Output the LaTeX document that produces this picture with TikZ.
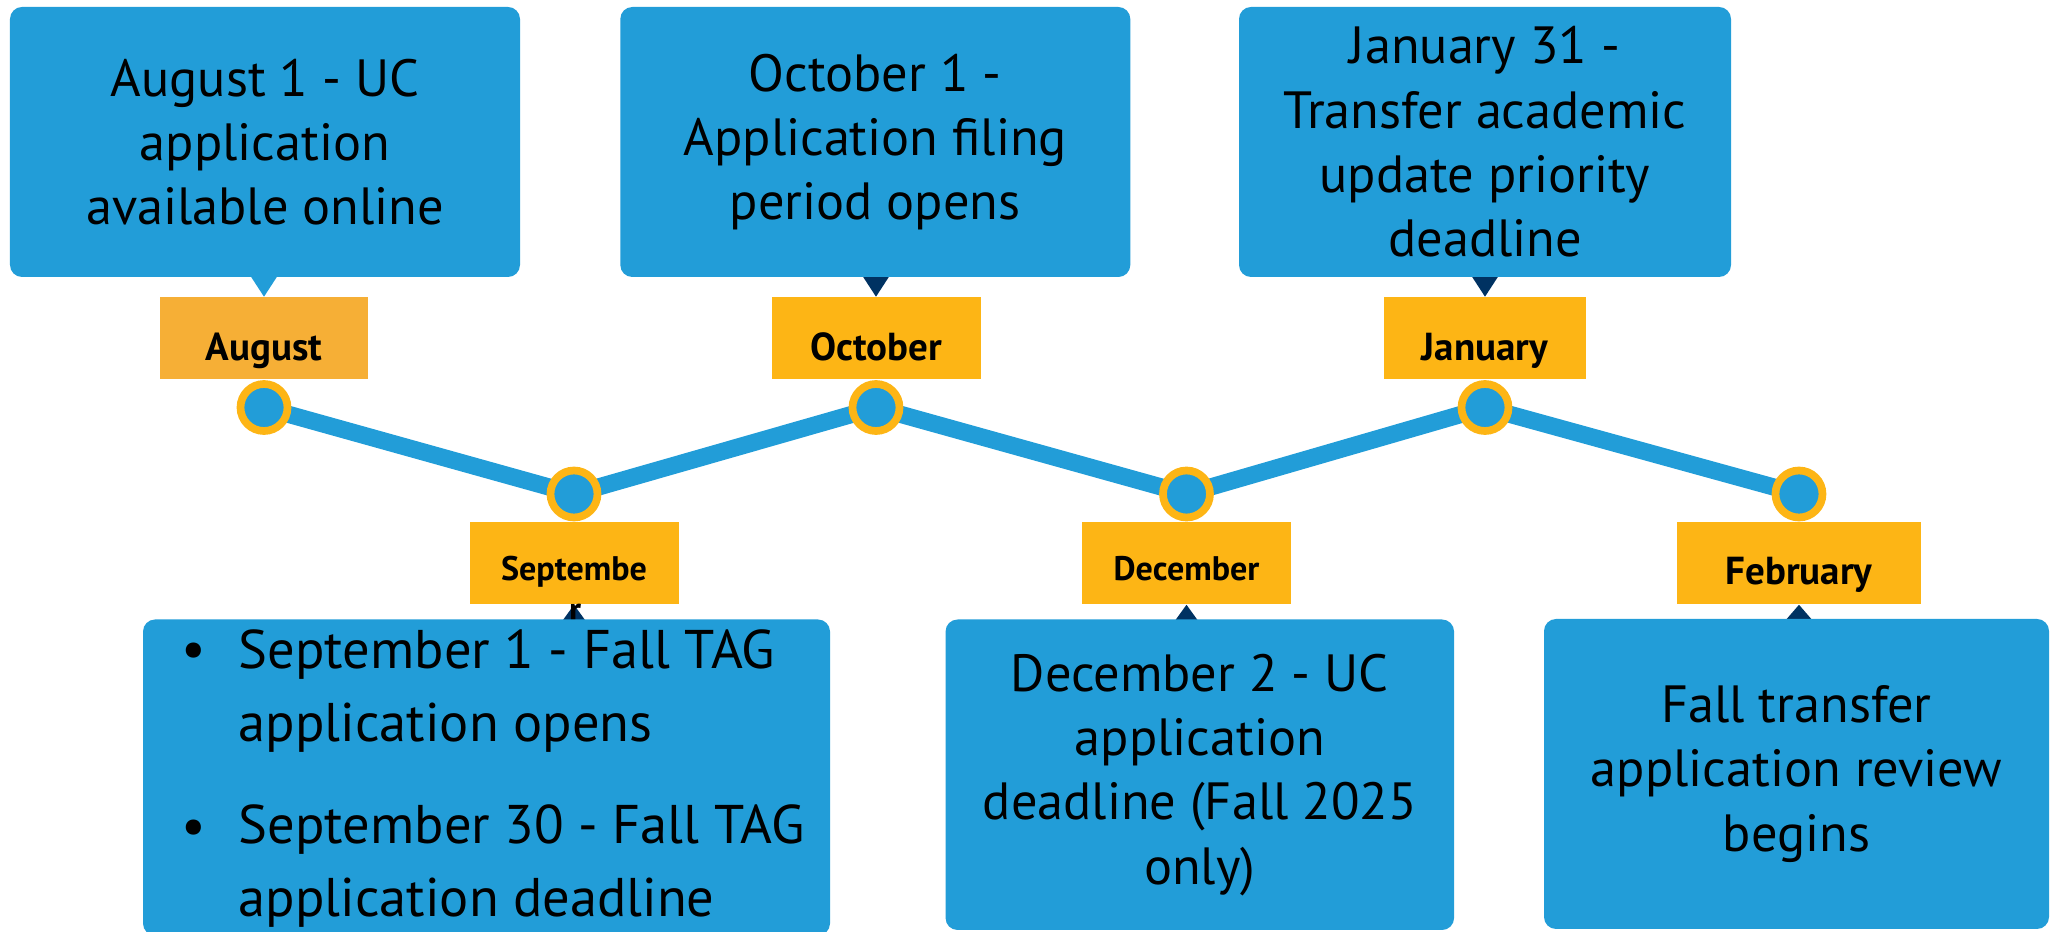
\documentclass[tikz,border=0pt]{standalone}
\usepackage{fontspec}
\setmainfont{PT Sans}
\usepackage{tikz}
\usetikzlibrary{positioning,backgrounds,calc}
\definecolor{evblue}{HTML}{229DD8}
\definecolor{gold}{HTML}{FDB515}
\definecolor{augold}{HTML}{F6AF36}
\definecolor{navy}{HTML}{003262}
\tikzset{
  track/.style={draw=evblue, line width=4.9pt},
  dot/.style={circle, draw=gold, fill=evblue, line width=2.2pt, minimum size=0.47cm, inner sep=0pt},
  month/.style={fill=gold, inner sep=0pt, minimum width=2.08cm, text height=0.63cm, text depth=0.19cm, font=\fontsize{11.1}{13}\selectfont\bfseries},
  monthsm/.style={month, text height=0.58cm, text depth=0.24cm, font=\fontsize{9.7}{11}\selectfont\bfseries},
  evbox/.style={fill=evblue, rounded corners=0.12cm, inner sep=0pt, align=center, font=\fontsize{14.9}{18.3}\selectfont},
  itemtxt/.style={anchor=base west, align=left, inner sep=0pt, font=\fontsize{15.5}{21}\selectfont},
  tail/.style={fill=navy},
}

\begin{document}
\begin{tikzpicture}
\useasboundingbox (0,0) rectangle (20.51,9.32);
% dots on the track
\node[dot] (dAug) at (2.64,5.245) {};
\node[dot] (dSep) at (5.74,4.38) {};
\node[dot] (dOct) at (8.76,5.245) {};
\node[dot] (dDec) at (11.865,4.38) {};
\node[dot] (dJan) at (14.85,5.245) {};
\node[dot] (dFeb) at (17.99,4.38) {};
\begin{scope}[on background layer]
  \draw[track] (dAug.center) -- (dSep.center) -- (dOct.center) -- (dDec.center)
    -- (dJan.center) -- (dFeb.center);
\end{scope}

% month tags
\node[month, fill=augold, above=0pt of dAug] (lAug) {August};
\node[monthsm, minimum width=2.09cm, below=0pt of dSep] (lSep) {Septembe};
\node[month, minimum width=2.09cm, above=0pt of dOct] (lOct) {October};
\node[monthsm, minimum width=2.09cm, below=0pt of dDec] (lDec) {December};
\node[month, minimum width=2.02cm, above=0pt of dJan] (lJan) {January};
\node[month, minimum width=2.44cm, text height=0.62cm, text depth=0.20cm, below=0pt of dFeb] (lFeb) {February};

% tails
\fill[evblue] (lAug.north) -- ++(-0.13,0.2) -- ++(0.26,0) -- cycle;
\fill[tail] (lOct.north) -- ++(-0.13,0.2) -- ++(0.26,0) -- cycle;
\fill[tail] (lJan.north) -- ++(-0.13,0.2) -- ++(0.26,0) -- cycle;
\fill[tail] (lSep.south) -- ++(-0.13,-0.18) -- ++(0.26,0) -- cycle;
\fill[tail] (lDec.south) -- ++(-0.13,-0.18) -- ++(0.26,0) -- cycle;
\fill[tail] (lFeb.south) -- ++(-0.13,-0.15) -- ++(0.26,0) -- cycle;

% the letter that spills out of the September tag
\node[font=\fontsize{9.7}{11}\selectfont\bfseries, anchor=base, inner sep=0pt] (lSepR) at (5.75,3.10) {r};

% event boxes
\node[evbox, minimum width=5.10cm, minimum height=2.70cm] (bAug) at (2.65,7.90)
  {August 1 - UC\\application\\available online};
\node[evbox, minimum width=5.10cm, minimum height=2.70cm] (bOct) at (8.753,7.90)
  {October 1 -\\Application filing\\period opens};
\node[evbox, minimum width=4.92cm, minimum height=2.70cm] (bJan) at (14.85,7.90)
  {January 31 -\\Transfer academic\\update priority\\deadline};
\node[evbox, minimum width=6.87cm, minimum height=3.16cm] (bSep) at (4.865,1.545) {};
\node[evbox, minimum width=5.085cm, minimum height=3.105cm] (bDec) at (11.998,1.5725)
  {December 2 - UC\\application\\deadline (Fall 2025\\only)};
\node[evbox, minimum width=5.05cm, minimum height=3.10cm] (bFeb) at (17.965,1.58)
  {Fall transfer\\application review\\begins};

% September list (base = last line)
\node[itemtxt] (tSep1) at (2.38,1.90) {September 1 - Fall TAG\\application opens};
\node[itemtxt] (tSep2) at (2.38,0.15) {September 30 - Fall TAG\\application deadline};
\node[itemtxt, anchor=base] (uSep1) at (1.94,2.64) {\textbullet};
\node[itemtxt, anchor=base] (uSep2) at (1.94,0.87) {\textbullet};
\end{tikzpicture}
\end{document}
